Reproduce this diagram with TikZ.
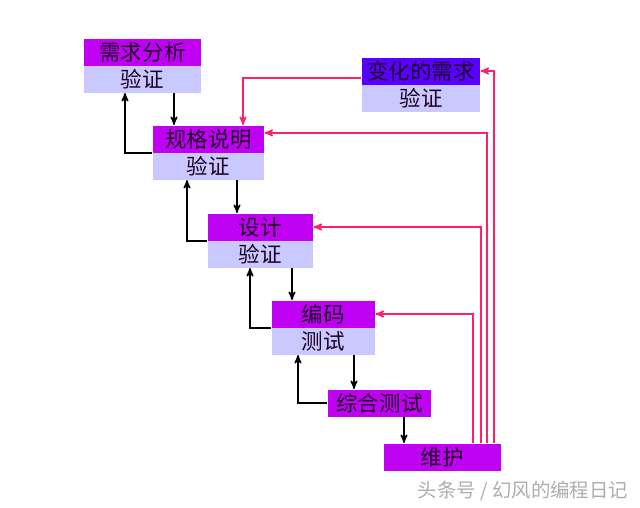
\documentclass[tikz,border=0pt]{standalone}
\usepackage{fontspec}
\setmainfont{Noto Sans CJK SC}
\usetikzlibrary{arrows}
\definecolor{chead}{rgb}{0.75, 0, 0.95}
\definecolor{cchange}{rgb}{0.35, 0, 1}
\definecolor{ccheck}{rgb}{0.79, 0.79, 1}
\definecolor{cback}{rgb}{1, 0.13, 0.40}
\definecolor{gris}{rgb}{0.68,0.68,0.68}

\begin{document}
\begin{tikzpicture}[x=0.025cm, y=-0.025cm, >=stealth', thick]
  \tikzstyle{head}=[minimum height=0.675cm, inner sep=0pt, text=black!85!chead, font=\fontsize{15.3pt}{15.3pt}\selectfont, fill=chead]
  \tikzstyle{check}=[head, fill=ccheck]
  \tikzstyle{forward}=[->, black, line width=1.1pt]
  \tikzstyle{back}=[->, cback, line width=1.1pt]

	\useasboundingbox (0,0) rectangle (640,508);

	\node[head, minimum width=2.925cm]  (R1) at (142.5,52) {需求分析};
	\node[check, minimum width=2.925cm] (V1) at (142.5,79) {验证};
	\node[head, minimum width=2.775cm]  (R2) at (208.5,139) {规格说明};
	\node[check, minimum width=2.775cm] (V2) at (208.5,166) {验证};
	\node[head, minimum width=2.625cm]  (R3) at (260.5,227) {设计};
	\node[check, minimum width=2.625cm] (V3) at (260.5,254) {验证};
	\node[head, minimum width=2.575cm]  (R4) at (323.5,314) {编码};
	\node[check, minimum width=2.575cm] (V4) at (323.5,341) {测试};
	\node[head, minimum width=2.575cm]  (R5) at (379.5,403) {综合测试};
	\node[head, minimum width=2.925cm]  (R6) at (442.5,457) {维护};
	\node[head, fill=cchange, minimum width=2.95cm] (C1) at (421,71) {变化的需求};
	\node[check, minimum width=2.95cm]  (C2) at (421,98) {验证};

	\node[text=gris, font=\fontsize{13.8pt}{13.8pt}\selectfont, inner sep=0pt] (W) at (523,491) {头条号 / 幻风的编程日记};

	% x and y of the lines that miss the node centres
	\coordinate (a1) at (174,0);
	\coordinate (a2) at (237,0);
	\coordinate (a3) at (292,0);
	\coordinate (a4) at (354,0);
	\coordinate (a5) at (404,0);
	\coordinate (b1) at (125,0);
	\coordinate (b2) at (187,0);
	\coordinate (b3) at (250,0);
	\coordinate (b4) at (298,0);
	\coordinate (p0) at (243,0);
	\coordinate (p1) at (473,0);
	\coordinate (p2) at (481,0);
	\coordinate (p3) at (487.1,0);
	\coordinate (p4) at (494,0);
	\coordinate (q1) at (0,132.9);
	\coordinate (q2) at (0,78);

	\draw[forward] (V1.south -| a1) -- (R2.north -| a1);
	\draw[forward] (V2.south -| a2) -- (R3.north -| a2);
	\draw[forward] (V3.south -| a3) -- (R4.north -| a3);
	\draw[forward] (V4.south -| a4) -- (R5.north -| a4);
	\draw[forward] (R5.south -| a5) -- (R6.north -| a5);

	\draw[forward] (R2.south west) -| (V1.south -| b1);
	\draw[forward] (R3.south west) -| (V2.south -| b2);
	\draw[forward] (R4.south west) -| (V3.south -| b3);
	\draw[forward] (R5.west) -| (V4.south -| b4);

	\draw[back] (C1.west |- q2) -| (R2.north -| p0);
	\draw[back] (R6.north -| p1) |- (R4.east);
	\draw[back] (R6.north -| p2) |- (R3.east);
	\draw[back] (R6.north -| p3) |- (R2.east |- q1);
	\draw[back] (R6.north -| p4) |- (C1.east);

\end{tikzpicture}
\end{document}
